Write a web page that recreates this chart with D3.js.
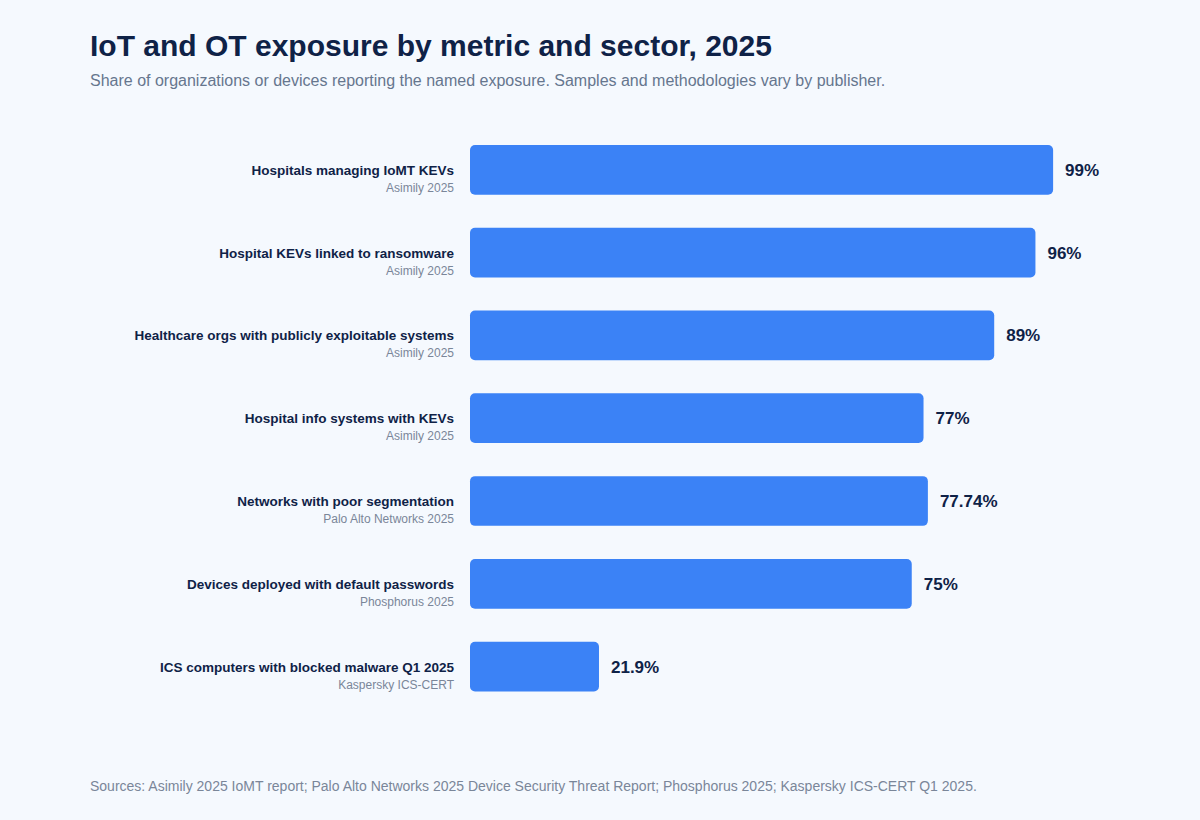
<!DOCTYPE html>
<html>
<head>
<meta charset="utf-8">
<script src="https://cdn.jsdelivr.net/npm/d3@7"></script>
<style>
	html, body { margin: 0; padding: 0; background: #f5f9fe; }
	svg { display: block; font-family: "Liberation Sans", Arial, sans-serif; }
</style>
</head>
<body>
<div id="chart"></div>
<script>
(function () {

	'use strict';

	var metrics = [
		'Hospitals managing IoMT KEVs',
		'Hospital KEVs linked to ransomware',
		'Healthcare orgs with publicly exploitable systems',
		'Hospital info systems with KEVs',
		'Networks with poor segmentation',
		'Devices deployed with default passwords',
		'ICS computers with blocked malware Q1 2025'
	];
	var sources = [
		'Asimily 2025',
		'Asimily 2025',
		'Asimily 2025',
		'Asimily 2025',
		'Palo Alto Networks 2025',
		'Phosphorus 2025',
		'Kaspersky ICS-CERT'
	];
	var values = [99, 96, 89, 77, 77.74, 75, 21.9];
	var valueLabels = ['99%', '96%', '89%', '77%', '77.74%', '75%', '21.9%'];

	var width = 1200;
	var height = 820;

	var svg = d3.select('#chart')
		.append('svg')
		.attr('width', width)
		.attr('height', height);

	svg.append('rect')
		.attr('width', width)
		.attr('height', height)
		.attr('fill', '#f5f9fe');

	svg.append('text')
		.attr('x', 90)
		.attr('y', 56)
		.attr('fill', '#0f2247')
		.style('font-size', '30px')
		.style('font-weight', 'bold')
		.text('IoT and OT exposure by metric and sector, 2025');

	svg.append('text')
		.attr('x', 90)
		.attr('y', 86)
		.attr('fill', '#66768e')
		.style('font-size', '16px')
		.text('Share of organizations or devices reporting the named exposure. Samples and methodologies vary by publisher.');

	var x = d3.scaleLinear()
		.domain([0, 100])
		.range([470, 1059]);

	var y = d3.scaleBand()
		.domain(metrics)
		.range([128.4, 708])
		.paddingInner(0.4)
		.paddingOuter(0.2);

	var rows = metrics.map(function (m, i) {
		return { metric: m, source: sources[i], value: values[i], label: valueLabels[i] };
	});

	var row = svg.selectAll('g.row')
		.data(rows)
		.enter()
		.append('g')
		.attr('class', 'row');

	row.append('rect')
		.attr('x', x(0))
		.attr('y', function (d) { return y(d.metric); })
		.attr('width', function (d) { return x(d.value) - x(0); })
		.attr('height', y.bandwidth())
		.attr('rx', 5)
		.attr('fill', '#3b82f6');

	row.append('text')
		.attr('x', 454)
		.attr('y', function (d) { return y(d.metric) + y.bandwidth() / 2 + 5; })
		.attr('text-anchor', 'end')
		.attr('fill', '#0f2247')
		.style('font-size', '13.5px')
		.style('font-weight', 'bold')
		.text(function (d) { return d.metric; });

	row.append('text')
		.attr('x', 454)
		.attr('y', function (d) { return y(d.metric) + y.bandwidth() / 2 + 22; })
		.attr('text-anchor', 'end')
		.attr('fill', '#7a8699')
		.style('font-size', '12px')
		.text(function (d) { return d.source; });

	row.append('text')
		.attr('x', function (d) { return x(d.value) + 12; })
		.attr('y', function (d) { return y(d.metric) + y.bandwidth() / 2 + 6; })
		.attr('fill', '#0f2247')
		.style('font-size', '17px')
		.style('font-weight', 'bold')
		.text(function (d) { return d.label; });

	svg.append('text')
		.attr('x', 90)
		.attr('y', 791)
		.attr('fill', '#7a8699')
		.style('font-size', '14px')
		.text('Sources: Asimily 2025 IoMT report; Palo Alto Networks 2025 Device Security Threat Report; Phosphorus 2025; Kaspersky ICS-CERT Q1 2025.');

})();
</script>
</body>
</html>
